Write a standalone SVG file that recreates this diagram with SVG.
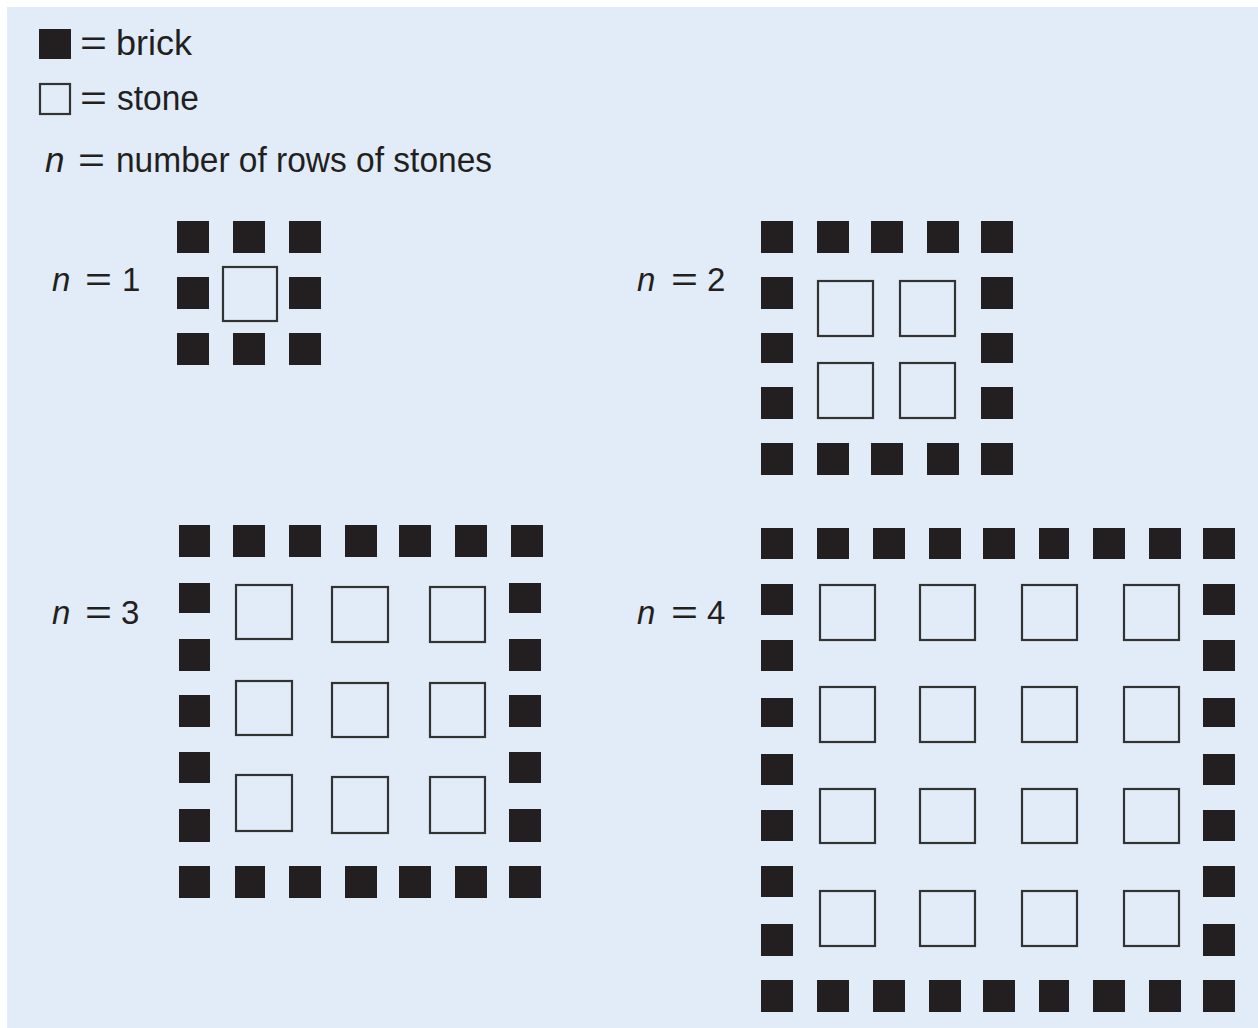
<svg xmlns="http://www.w3.org/2000/svg" width="1258" height="1028" viewBox="0 0 1258 1028">
<style>
.bg{fill:#e1ecf8}
.b{fill:#231f20}
.s{fill:none;stroke:#333333;stroke-width:2.2}
.t{font-family:"Liberation Sans",Arial,sans-serif;font-size:35px;fill:#231f20}
.l{font-family:"Liberation Sans",Arial,sans-serif;font-size:33px;fill:#231f20}
.i{font-style:italic}
</style>
<rect x="0" y="0" width="1258" height="1028" fill="#ffffff"/>
<rect class="bg" x="7" y="7" width="1251" height="1021"/>
<g id="legend">
  <rect class="b" x="39" y="29" width="32" height="30"/>
  <text class="t" x="80" y="55" textLength="27" lengthAdjust="spacingAndGlyphs">=</text>
  <text class="t" x="116" y="55" textLength="76" lengthAdjust="spacingAndGlyphs">brick</text>
  <rect class="s" x="40" y="84" width="30" height="30"/>
  <text class="t" x="80" y="110" textLength="27" lengthAdjust="spacingAndGlyphs">=</text>
  <text class="t" x="117" y="110" textLength="82" lengthAdjust="spacingAndGlyphs">stone</text>
  <text class="t i" x="45" y="172">n</text>
  <text class="t" x="78" y="172" textLength="27" lengthAdjust="spacingAndGlyphs">=</text>
  <text class="t" x="116" y="172" textLength="376" lengthAdjust="spacingAndGlyphs">number of rows of stones</text>
</g>
<g id="n1">
  <text class="l i" x="52" y="291">n</text>
  <text class="l" x="85" y="291" textLength="27" lengthAdjust="spacingAndGlyphs">=</text>
  <text class="l" x="122" y="291">1</text>
  <rect class="b" x="177" y="221" width="32" height="32"/>
  <rect class="b" x="233" y="221" width="32" height="32"/>
  <rect class="b" x="289" y="221" width="32" height="32"/>
  <rect class="b" x="177" y="277" width="32" height="32"/>
  <rect class="b" x="289" y="277" width="32" height="32"/>
  <rect class="b" x="177" y="333" width="32" height="32"/>
  <rect class="b" x="233" y="333" width="32" height="32"/>
  <rect class="b" x="289" y="333" width="32" height="32"/>
  <rect class="s" x="223" y="267" width="54" height="54"/>
</g>
<g id="n2">
  <text class="l i" x="637" y="291">n</text>
  <text class="l" x="671" y="291" textLength="27" lengthAdjust="spacingAndGlyphs">=</text>
  <text class="l" x="707" y="291">2</text>
  <rect class="b" x="761" y="221" width="32" height="32"/>
  <rect class="b" x="817" y="221" width="32" height="32"/>
  <rect class="b" x="871" y="221" width="32" height="32"/>
  <rect class="b" x="927" y="221" width="32" height="32"/>
  <rect class="b" x="981" y="221" width="32" height="32"/>
  <rect class="b" x="761" y="277" width="32" height="32"/>
  <rect class="b" x="761" y="333" width="32" height="30"/>
  <rect class="b" x="761" y="387" width="32" height="32"/>
  <rect class="b" x="981" y="277" width="32" height="32"/>
  <rect class="b" x="981" y="333" width="32" height="30"/>
  <rect class="b" x="981" y="387" width="32" height="32"/>
  <rect class="b" x="761" y="443" width="32" height="32"/>
  <rect class="b" x="817" y="443" width="32" height="32"/>
  <rect class="b" x="871" y="443" width="32" height="32"/>
  <rect class="b" x="927" y="443" width="32" height="32"/>
  <rect class="b" x="981" y="443" width="32" height="32"/>
  <rect class="s" x="818" y="281" width="55" height="55"/>
  <rect class="s" x="900" y="281" width="55" height="55"/>
  <rect class="s" x="818" y="363" width="55" height="55"/>
  <rect class="s" x="900" y="363" width="55" height="55"/>
</g>
<g id="n3">
  <text class="l i" x="52" y="624">n</text>
  <text class="l" x="85" y="624" textLength="27" lengthAdjust="spacingAndGlyphs">=</text>
  <text class="l" x="121" y="624">3</text>
  <rect class="b" x="179" y="525" width="31" height="32"/>
  <rect class="b" x="233" y="525" width="32" height="32"/>
  <rect class="b" x="289" y="525" width="32" height="32"/>
  <rect class="b" x="345" y="525" width="32" height="32"/>
  <rect class="b" x="399" y="525" width="32" height="32"/>
  <rect class="b" x="455" y="525" width="32" height="32"/>
  <rect class="b" x="511" y="525" width="32" height="32"/>
  <rect class="b" x="179" y="583" width="31" height="30"/>
  <rect class="b" x="179" y="639" width="31" height="32"/>
  <rect class="b" x="179" y="695" width="31" height="32"/>
  <rect class="b" x="179" y="752" width="31" height="31"/>
  <rect class="b" x="179" y="809" width="31" height="33"/>
  <rect class="b" x="509" y="583" width="32" height="30"/>
  <rect class="b" x="509" y="639" width="32" height="32"/>
  <rect class="b" x="509" y="695" width="32" height="32"/>
  <rect class="b" x="509" y="752" width="32" height="31"/>
  <rect class="b" x="509" y="809" width="32" height="33"/>
  <rect class="b" x="179" y="866" width="31" height="32"/>
  <rect class="b" x="235" y="866" width="30" height="32"/>
  <rect class="b" x="289" y="866" width="32" height="32"/>
  <rect class="b" x="345" y="866" width="32" height="32"/>
  <rect class="b" x="399" y="866" width="32" height="32"/>
  <rect class="b" x="455" y="866" width="32" height="32"/>
  <rect class="b" x="509" y="866" width="32" height="32"/>
  <rect class="s" x="236" y="585" width="56" height="54"/>
  <rect class="s" x="332" y="587" width="56" height="55"/>
  <rect class="s" x="430" y="587" width="55" height="55"/>
  <rect class="s" x="236" y="681" width="56" height="54"/>
  <rect class="s" x="332" y="683" width="56" height="54"/>
  <rect class="s" x="430" y="683" width="55" height="54"/>
  <rect class="s" x="236" y="775" width="56" height="56"/>
  <rect class="s" x="332" y="777" width="56" height="56"/>
  <rect class="s" x="430" y="777" width="55" height="56"/>
</g>
<g id="n4">
  <text class="l i" x="637" y="624">n</text>
  <text class="l" x="671" y="624" textLength="27" lengthAdjust="spacingAndGlyphs">=</text>
  <text class="l" x="707" y="624">4</text>
  <rect class="b" x="761" y="528" width="32" height="31"/>
  <rect class="b" x="817" y="528" width="32" height="31"/>
  <rect class="b" x="873" y="528" width="32" height="31"/>
  <rect class="b" x="929" y="528" width="32" height="31"/>
  <rect class="b" x="983" y="528" width="32" height="31"/>
  <rect class="b" x="1039" y="528" width="30" height="31"/>
  <rect class="b" x="1093" y="528" width="32" height="31"/>
  <rect class="b" x="1149" y="528" width="32" height="31"/>
  <rect class="b" x="1203" y="528" width="32" height="31"/>
  <rect class="b" x="761" y="584" width="32" height="31"/>
  <rect class="b" x="761" y="640" width="32" height="31"/>
  <rect class="b" x="761" y="698" width="32" height="29"/>
  <rect class="b" x="761" y="754" width="32" height="31"/>
  <rect class="b" x="761" y="810" width="32" height="31"/>
  <rect class="b" x="761" y="866" width="32" height="31"/>
  <rect class="b" x="761" y="924" width="32" height="32"/>
  <rect class="b" x="1203" y="584" width="32" height="31"/>
  <rect class="b" x="1203" y="640" width="32" height="31"/>
  <rect class="b" x="1203" y="698" width="32" height="29"/>
  <rect class="b" x="1203" y="754" width="32" height="31"/>
  <rect class="b" x="1203" y="810" width="32" height="31"/>
  <rect class="b" x="1203" y="866" width="32" height="31"/>
  <rect class="b" x="1203" y="924" width="32" height="32"/>
  <rect class="b" x="761" y="980" width="32" height="32"/>
  <rect class="b" x="817" y="980" width="32" height="32"/>
  <rect class="b" x="873" y="980" width="32" height="32"/>
  <rect class="b" x="929" y="980" width="32" height="32"/>
  <rect class="b" x="983" y="980" width="32" height="32"/>
  <rect class="b" x="1039" y="980" width="30" height="32"/>
  <rect class="b" x="1093" y="980" width="32" height="32"/>
  <rect class="b" x="1149" y="980" width="32" height="32"/>
  <rect class="b" x="1203" y="980" width="32" height="32"/>
  <rect class="s" x="820" y="585" width="55" height="55"/>
  <rect class="s" x="920" y="585" width="55" height="55"/>
  <rect class="s" x="1022" y="585" width="55" height="55"/>
  <rect class="s" x="1124" y="585" width="55" height="55"/>
  <rect class="s" x="820" y="687" width="55" height="55"/>
  <rect class="s" x="920" y="687" width="55" height="55"/>
  <rect class="s" x="1022" y="687" width="55" height="55"/>
  <rect class="s" x="1124" y="687" width="55" height="55"/>
  <rect class="s" x="820" y="789" width="55" height="54"/>
  <rect class="s" x="920" y="789" width="55" height="54"/>
  <rect class="s" x="1022" y="789" width="55" height="54"/>
  <rect class="s" x="1124" y="789" width="55" height="54"/>
  <rect class="s" x="820" y="891" width="55" height="55"/>
  <rect class="s" x="920" y="891" width="55" height="55"/>
  <rect class="s" x="1022" y="891" width="55" height="55"/>
  <rect class="s" x="1124" y="891" width="55" height="55"/>
</g>
</svg>
